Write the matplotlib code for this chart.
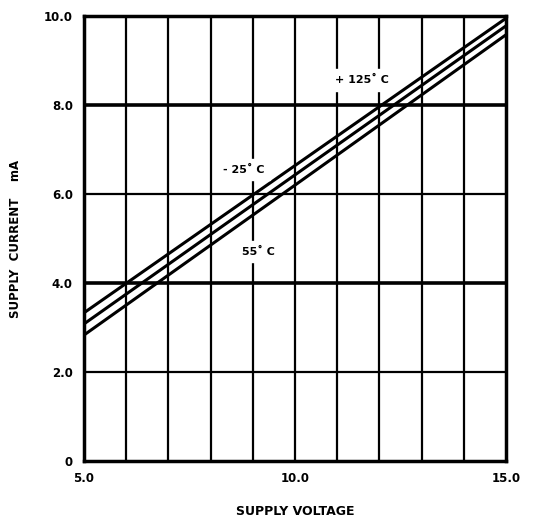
import numpy as np
import matplotlib
matplotlib.use("Agg")
import matplotlib.pyplot as plt

# supply current vs supply voltage
voltage = [5.0, 10.0, 15.0]
current_top = [3.33, 6.64, 9.95]
current_mid = [3.08, 6.43, 9.78]
current_bot = [2.83, 6.20, 9.58]

x_ticks = [5.0, 10.0, 15.0]
x_ticklabels = ["5.0", "10.0", "15.0"]
y_ticks = [0, 2, 4, 6, 8, 10]
y_ticklabels = ["0", "2.0", "4.0", "6.0", "8.0", "10.0"]

temp_labels = ["+ 125\u02da C", "- 25\u02da C", "55\u02da C"]
temp_pos = [(10.95, 8.56), (8.3, 6.55), (8.75, 4.7)]

plt.rcParams['font.family'] = ['DejaVu Sans']
fig = plt.figure(figsize=(5.35, 5.26), dpi=100)
ax = fig.add_axes([0.157, 0.1236, 0.789, 0.846])

ax.set_xlim(5, 15)
ax.set_ylim(0, 10)

# grid: vertical line every volt, horizontal every 2 mA
for v in range(6, 15):
    ax.axvline(v, color='black', lw=1.6, zorder=1)
for c in [2, 4, 6, 8]:
    ax.axhline(c, color='black', lw=2.6 if c in (4, 8) else 1.6, zorder=1)

for cur in [current_top, current_mid, current_bot]:
    ax.plot(voltage, cur, color='black', lw=2.2, zorder=3)

for txt, (tx, ty) in zip(temp_labels, temp_pos):
    ax.text(tx, ty, txt, fontsize=8, fontweight='bold', ha='left', va='center',
            backgroundcolor='white', zorder=4)

for sp in ax.spines.values():
    sp.set_linewidth(2.5)

ax.set_xticks(x_ticks)
ax.set_xticklabels(x_ticklabels, fontsize=8.5, fontweight='bold')
ax.set_yticks(y_ticks)
ax.set_yticklabels(y_ticklabels, fontsize=8.5, fontweight='bold')
ax.tick_params(length=0, pad=8)

ax.set_xlabel("SUPPLY VOLTAGE", fontsize=9, fontweight='bold', labelpad=14)
ax.set_ylabel("SUPPLY  CURRENT    mA", fontsize=8.5, fontweight='bold', labelpad=16)

fig.savefig("out.png", dpi=100)
